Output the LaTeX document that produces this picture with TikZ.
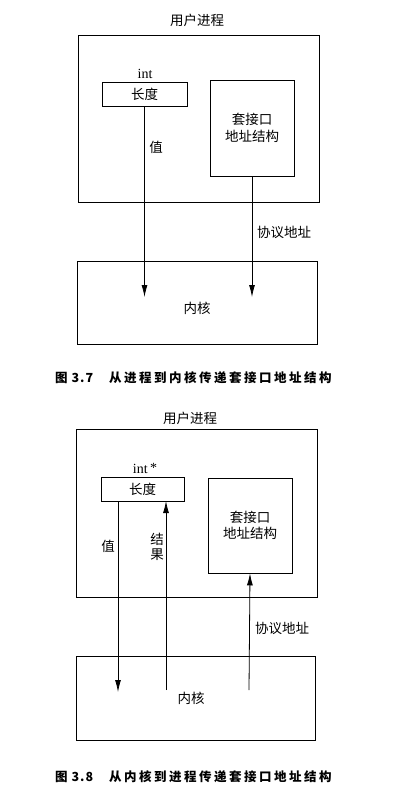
\documentclass[tikz,border=0pt]{standalone}
\usepackage{fontspec}
\setmainfont{Noto Sans CJK SC}
\newfontfamily\capfont[LetterSpace=20]{Noto Sans CJK SC}
\newfontfamily\numfont[LetterSpace=8]{Noto Sans CJK SC}
\newfontfamily\latinfont{Liberation Serif}
\usetikzlibrary{arrows.meta}
\begin{document}
\begin{tikzpicture}[x=1pt,y=-1pt,
  box/.style={draw,line width=0.8pt,inner sep=0pt,anchor=center},
  txt/.style={inner sep=0pt,font=\fontsize{13.5}{15}\selectfont},
  lat/.style={inner sep=0pt,font=\latinfont\fontsize{14}{15}\selectfont},
  captxt/.style={inner sep=0pt,anchor=west,font=\capfont\bfseries\fontsize{12.5}{14}\selectfont},
  capnum/.style={inner sep=0pt,anchor=west,font=\numfont\bfseries\fontsize{12.5}{14}\selectfont},
  arr/.style={line width=0.8pt,-{Latex[length=12pt,width=6pt]}}]
\useasboundingbox (0,0) rectangle (416,794);
% ---------- Figure 3.7 ----------
\node[txt] (title1) at (197,20) {用户进程};
\node[box,minimum width=241pt,minimum height=167pt] (user1) at (198.5,118.5) {};
\node[lat] (int1) at (145,74) {int};
\node[box,minimum width=85pt,minimum height=24pt,font=\fontsize{13.5}{15}\selectfont] (len1) at (144.5,94) {长度};
\node[box,minimum width=84pt,minimum height=96pt,align=center,font=\fontsize{13.5}{16.5}\selectfont] (sock1) at (252,128) {套接口\\地址结构};
\node[box,minimum width=240pt,minimum height=83pt] (kern1) at (197,302.5) {};
\node[txt] (kt1) at (197,308) {内核};
\coordinate (e1a) at (144.5,297);
\coordinate (e1b) at (252,297);
\draw[arr] (len1.south) -- (e1a);
\draw[arr] (sock1.south) -- (e1b);
\node[txt] (val1) at (156,147) {值};
\node[txt] (proto1) at (284,232) {协议地址};
\node[capnum] (cap1a) at (55,378) {图 3.7};
\node[captxt] (cap1b) at (109,378) {从进程到内核传递套接口地址结构};
% ---------- Figure 3.8 ----------
\node[txt] (title2) at (190,418) {用户进程};
\node[box,minimum width=241pt,minimum height=168pt] (user2) at (196.5,513) {};
\node[lat] (int2) at (145,468) {int\,\raisebox{1pt}{*}};
\node[box,minimum width=83pt,minimum height=24pt,font=\fontsize{13.5}{15}\selectfont] (len2) at (142.5,489) {长度};
\node[box,minimum width=84pt,minimum height=95pt,align=center,font=\fontsize{13.5}{16.5}\selectfont] (sock2) at (250,525.5) {套接口\\地址结构};
\node[box,minimum width=239pt,minimum height=84pt] (kern2) at (195.5,698) {};
\node[txt] (kt2) at (191,698) {内核};
\coordinate (s2a) at (118,501);
\coordinate (e2a) at (118,692);
\coordinate (s2b) at (166,690);
\coordinate (e2b) at (166,501);
\coordinate (s2c) at (249,690);
\draw[arr] (s2a) -- (e2a);
\draw[arr] (s2b) -- (e2b);
\draw[arr] (s2c) -- (sock2.south);
\node[txt] (val2) at (108,546) {值};
\node[txt,align=center,font=\fontsize{13.5}{14.5}\selectfont] (res2) at (157,547) {结\\果};
\node[txt] (proto2) at (282,628) {协议地址};
\node[capnum] (cap2a) at (55,777) {图 3.8};
\node[captxt] (cap2b) at (109,777) {从内核到进程传递套接口地址结构};
\end{tikzpicture}
\end{document}
